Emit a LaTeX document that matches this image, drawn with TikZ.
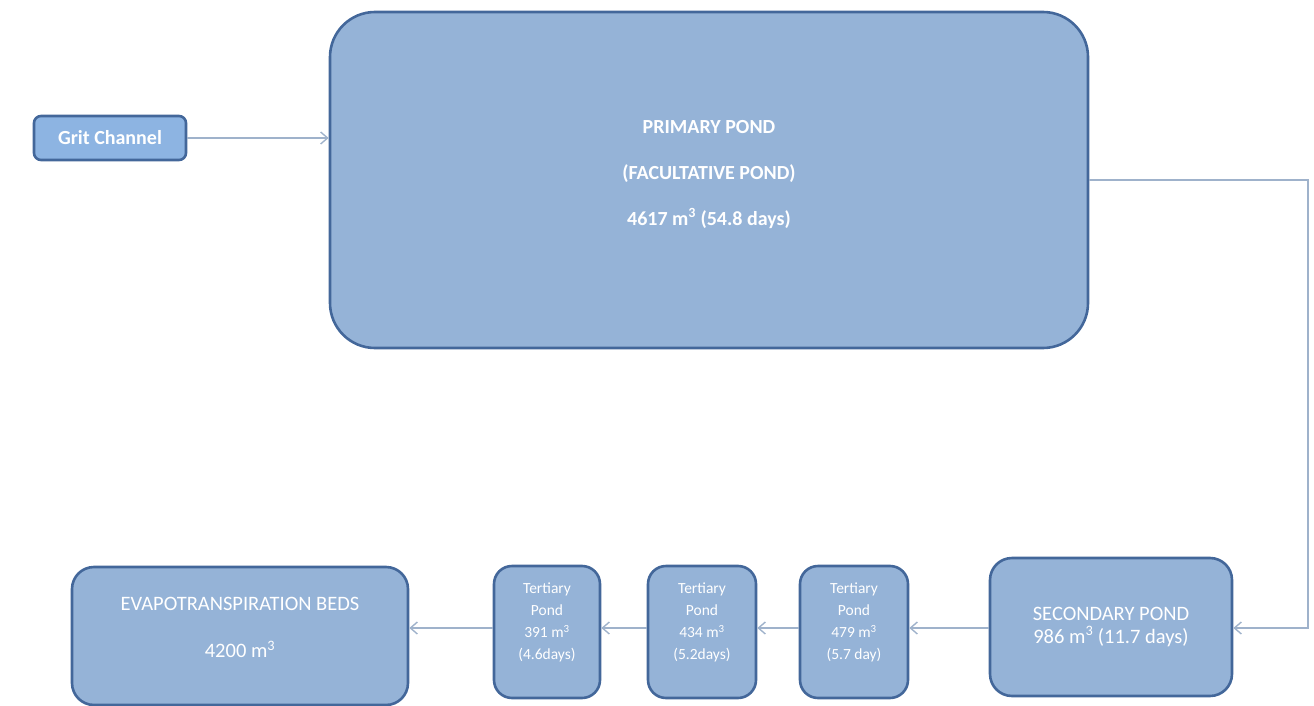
\documentclass[tikz,border=0pt]{standalone}
\usepackage{fontspec}
\setmainfont{Carlito}
\usetikzlibrary{arrows.meta}
\definecolor{boxfill}{HTML}{95B3D7}
\definecolor{gritfill}{HTML}{8DB4E2}
\definecolor{boxline}{HTML}{43679A}
\definecolor{conn}{HTML}{9FB2CB}
\tikzset{
  pond/.style={draw=boxline, line width=2.6pt, fill=boxfill, text=white, align=center, inner sep=0pt},
  link/.style={draw=conn, line width=1.6pt, -{Straight Barb[length=7pt,width=12pt,line width=1.4pt]}},
}
\begin{document}
\begin{tikzpicture}[x=1pt,y=-1pt]
\useasboundingbox (0,0) rectangle (1314,706);
\node[pond, fill=gritfill, rounded corners=7pt, minimum width=152pt, minimum height=44pt, font=\fontsize{20}{24}\selectfont\bfseries] (grit) at (110,138) {Grit Channel};
\node[pond, rounded corners=45pt, minimum width=758pt, minimum height=336pt, font=\fontsize{20}{23}\selectfont\bfseries] (primary) at (709,180) {PRIMARY POND\\[23pt](FACULTATIVE POND)\\[23pt]4617 m\textsuperscript{3} (54.8 days)\\[-8pt]};
\node[pond, rounded corners=22pt, minimum width=242pt, minimum height=138pt, font=\fontsize{20.5}{23}\selectfont] (secondary) at (1111,627) {SECONDARY POND\\986 m\textsuperscript{3} (11.7 days)};
\node[pond, rounded corners=18pt, minimum width=108pt, minimum height=132pt, font=\fontsize{15.5}{22}\selectfont] (t3) at (854,632) {Tertiary\\Pond\\479 m\textsuperscript{3}\\(5.7 day)\\[0pt]};
\node[pond, rounded corners=18pt, minimum width=108pt, minimum height=132pt, font=\fontsize{15.5}{22}\selectfont] (t2) at (702,632) {Tertiary\\Pond\\434 m\textsuperscript{3}\\(5.2days)\\[0pt]};
\node[pond, rounded corners=18pt, minimum width=106pt, minimum height=132pt, font=\fontsize{15.5}{22}\selectfont] (t1) at (547,632) {Tertiary\\Pond\\391 m\textsuperscript{3}\\(4.6days)\\[0pt]};
\node[pond, rounded corners=22pt, minimum width=336pt, minimum height=138pt, font=\fontsize{20.5}{23}\selectfont] (evapo) at (240,636) {EVAPOTRANSPIRATION BEDS\\[24pt]4200 m\textsuperscript{3}\\[-6pt]};
\coordinate (c1) at (1308,180);
\coordinate (c2) at (1308,628);
\draw[link] (grit.east) -- (primary.west |- grit.east);
\draw[link] (primary.east |- c1) -- (c1) -- (c2) -- (secondary.east |- c2);
\draw[link] (secondary.west |- c2) -- (t3.east |- c2);
\draw[link] (t3.west |- c2) -- (t2.east |- c2);
\draw[link] (t2.west |- c2) -- (t1.east |- c2);
\draw[link] (t1.west |- c2) -- (evapo.east |- c2);
\end{tikzpicture}
\end{document}
